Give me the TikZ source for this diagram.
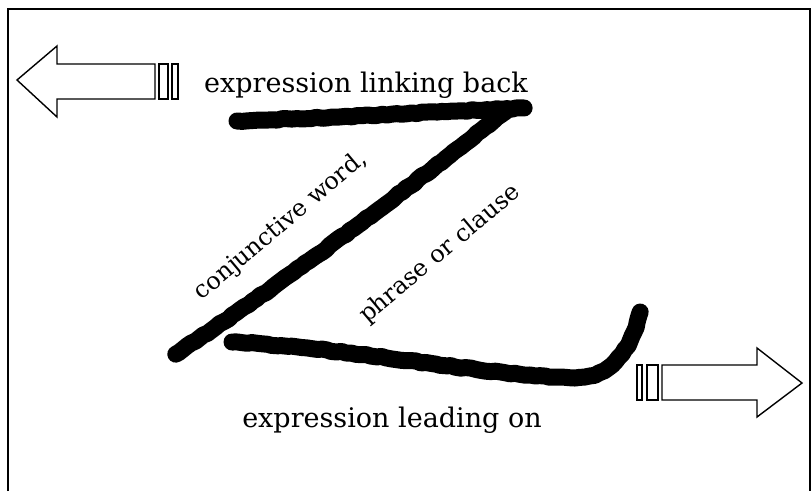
\documentclass[tikz,border=0pt]{standalone}
\usepackage{fontspec}
\setmainfont{DejaVu Serif}
\usepackage{tikz}
\usetikzlibrary{decorations.pathmorphing}

\tikzset{
  brush/.style={line width=17pt, line cap=round, line join=round,
    decorate, decoration={random steps, segment length=5pt, amplitude=0.7pt}},
  blockarrow/.style={draw, line width=1.4pt, fill=white, line join=miter},
  label/.style={font=\fontsize{27}{30}\selectfont, inner sep=0pt},
  slanted/.style={font=\fontsize{24}{27}\selectfont, inner sep=0pt, rotate=40}
}

\begin{document}
\begin{tikzpicture}[x=1pt, y=-1pt]
  \useasboundingbox (0,0) rectangle (812,491);

  % Frame (open at the bottom)
  \draw[line width=2pt] (8,491) -- (8,9) -- (810,9) -- (810,491);

  % Arrow pointing back
  \draw[blockarrow] (17,80) -- (57,46) -- (57,64) -- (155,64) -- (155,99) -- (57,99) -- (57,117) -- cycle;
  \draw[blockarrow] (159,64) rectangle (168,99);
  \draw[blockarrow] (172,64) rectangle (178,99);

  % Arrow pointing on
  \draw[blockarrow] (802,383) -- (757,348) -- (757,365) -- (662,365) -- (662,400) -- (757,400) -- (757,417) -- cycle;
  \draw[blockarrow] (637,365) rectangle (642,400);
  \draw[blockarrow] (647,365) rectangle (658,400);

  % The Z
  \draw[brush] (237,121) .. controls (330,118) and (430,112) .. (524,108);
  \draw[brush] (505,112) .. controls (400,195) and (280,285) .. (176,354);
  \draw[brush] (232,342) .. controls (350,348) and (480,375) .. (575,378) .. controls (612,378) and (634,345) .. (640,312);

  % Texts
  \node[label, anchor=base] (back) at (366,92) {expression linking back};
  \node[label, anchor=base] (on) at (392,427) {expression leading on};
  \node[slanted] (conj) at (281,226) {conjunctive word,};
  \node[slanted] (phrase) at (440,254) {phrase or clause};
\end{tikzpicture}
\end{document}
